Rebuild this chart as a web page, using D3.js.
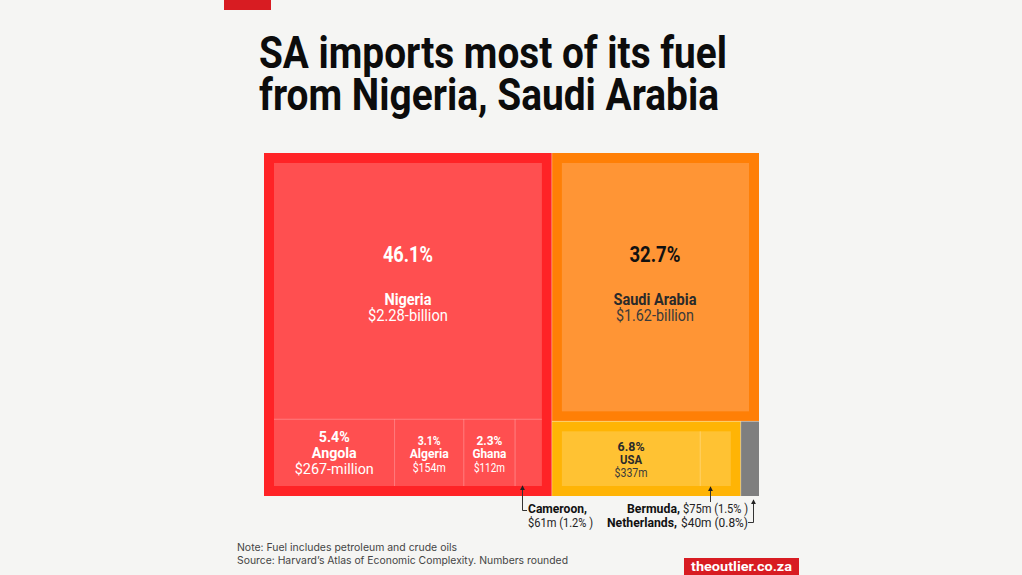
<!DOCTYPE html>
<html>
<head>
<meta charset="utf-8">
<script src="https://cdn.jsdelivr.net/npm/d3@7"></script>
<style>
  html, body { margin: 0; padding: 0; background: #f5f5f3; }
  svg { display: block; }
  text { font-family: "Roboto", sans-serif; }
</style>
</head>
<body>
<div id="chart"></div>
<script>
// values
const countries = ["Nigeria", "Angola", "Algeria", "Ghana", "Cameroon", "Saudi Arabia", "USA", "Bermuda", "Netherlands"];
const shares = [46.1, 5.4, 3.1, 2.3, 1.2, 32.7, 6.8, 1.5, 0.8];
const shareLabels = ["46.1%", "5.4%", "3.1%", "2.3%", "1.2%", "32.7%", "6.8%", "1.5%", "0.8%"];
const amountLabels = ["$2.28-billion", "$267-million", "$154m", "$112m", "$61m", "$1.62-billion", "$337m", "$75m", "$40m"];

const leaf = name => ({ name: name, value: shares[countries.indexOf(name)] });

// nesting of the treemap: each group says which way it splits
const tree = {
  name: "root", dir: "dice", children: [
    { name: "red", dir: "slice", pad: 10, children: [
      leaf("Nigeria"),
      { name: "row", dir: "dice", children: ["Angola", "Algeria", "Ghana", "Cameroon"].map(leaf) }
    ]},
    { name: "right", dir: "slice", children: [
      { name: "orange", dir: "slice", pad: 10, children: [leaf("Saudi Arabia")] },
      { name: "lower", dir: "dice", children: [
        { name: "yellow", dir: "dice", pad: 10, children: ["USA", "Bermuda"].map(leaf) },
        leaf("Netherlands")
      ]}
    ]}
  ]
};

const width = 1022, height = 575;
const svg = d3.select("#chart").append("svg").attr("width", width).attr("height", height);

// every text is squeezed to the width it has in the reference (the font there is a condensed one)
function put(parent, str, x, y, size, weight, fill, w, anchor) {
  return parent.append("text")
    .attr("x", x).attr("y", y)
    .attr("font-size", size).attr("font-weight", weight)
    .attr("fill", fill)
    .attr("text-anchor", anchor || "start")
    .attr("textLength", w)
    .attr("lengthAdjust", "spacingAndGlyphs")
    .text(str);
}

// top tab and headline
svg.append("rect").attr("x", 224).attr("y", 0).attr("width", 47).attr("height", 10).attr("fill", "#d81c22");
put(svg, "SA imports most of its fuel", 259, 68, 44, 700, "#0c0c0c", 468);
put(svg, "from Nigeria, Saudi Arabia", 259, 110, 44, 700, "#0c0c0c", 460);

// treemap
const root = d3.hierarchy(tree).sum(d => d.value || 0);
d3.treemap()
  .size([495, 343])
  .paddingOuter(d => d.data.pad || 0)
  .tile((node, x0, y0, x1, y1) => {
    (node.data.dir === "dice" ? d3.treemapDice : d3.treemapSlice)(node, x0, y0, x1, y1);
  })(root);

const g = svg.append("g").attr("transform", "translate(264,153)");

const outerColor = { red: "#ff2326", orange: "#ff7f06", yellow: "#ffb405", Netherlands: "#7f7f7f" };
const innerColor = { Nigeria: "#ff4f50", Angola: "#ff4f50", Algeria: "#ff4f50", Ghana: "#ff4f50", Cameroon: "#ff4f50",
                     "Saudi Arabia": "#ff9535", USA: "#ffc233", Bermuda: "#ffc233" };

const nodes = root.descendants();

g.selectAll("rect.outer")
  .data(nodes.filter(d => outerColor[d.data.name]))
  .enter().append("rect")
  .attr("class", "outer")
  .attr("x", d => d.x0).attr("y", d => d.y0)
  .attr("width", d => d.x1 - d.x0).attr("height", d => d.y1 - d.y0)
  .attr("fill", d => outerColor[d.data.name]);

g.selectAll("rect.inner")
  .data(nodes.filter(d => innerColor[d.data.name]))
  .enter().append("rect")
  .attr("class", "inner")
  .attr("x", d => d.x0).attr("y", d => d.y0)
  .attr("width", d => d.x1 - d.x0).attr("height", d => d.y1 - d.y0)
  .attr("fill", d => innerColor[d.data.name]);

// thin light seams between neighbours
g.selectAll("line.seam")
  .data(nodes.filter(d => d.parent && d.parent.children.indexOf(d) > 0))
  .enter().append("line")
  .attr("class", "seam")
  .attr("x1", d => d.x0).attr("y1", d => d.y0)
  .attr("x2", d => d.parent.data.dir === "dice" ? d.x0 : d.x1)
  .attr("y2", d => d.parent.data.dir === "dice" ? d.y1 : d.y0)
  .attr("stroke", "#fff").attr("stroke-opacity", 0.3).attr("stroke-width", 1);

// labels inside the cells: offsets from the cell top, with reference widths
const cellLabels = [
  { name: "Nigeria", fill: "#fff", sub: "#fff", pct: [99, 22, 50], nm: [142, 16, 47], amt: [158, 16, 80] },
  { name: "Saudi Arabia", fill: "#2a2a2a", top: "#111", sub: "#3a3a3a", dx: -0.5, pct: [99, 22, 51], nm: [142, 16, 83], amt: [158, 16, 78] },
  { name: "Angola", fill: "#fff", sub: "#fff", pct: [23, 15, 31], nm: [39, 15.5, 45], amt: [55, 15.5, 79] },
  { name: "Algeria", fill: "#fff", sub: "#fff", pct: [26, 13, 23], nm: [39, 13.5, 39], amt: [53, 13.5, 33] },
  { name: "Ghana", fill: "#fff", sub: "#fff", pct: [26, 13, 26], nm: [39, 13.5, 34], amt: [53, 13.5, 31] },
  { name: "USA", fill: "#2a2a2a", sub: "#3a3a3a", pct: [20, 13, 27], nm: [33, 13, 22], amt: [46, 13, 33] }
];

cellLabels.forEach(l => {
  const cell = root.leaves().find(d => d.data.name === l.name);
  const i = countries.indexOf(l.name);
  const cx = (cell.x0 + cell.x1) / 2 + (l.dx || 0);
  put(g, shareLabels[i], cx, cell.y0 + l.pct[0], l.pct[1], 700, l.top || l.fill, l.pct[2], "middle");
  put(g, l.name, cx, cell.y0 + l.nm[0], l.nm[1], 700, l.fill, l.nm[2], "middle");
  put(g, amountLabels[i], cx, cell.y0 + l.amt[0], l.amt[1], 400, l.sub, l.amt[2], "middle");
});

// call-outs below the treemap
svg.append("defs").append("marker")
  .attr("id", "tip").attr("viewBox", "0 0 6 6").attr("refX", 5).attr("refY", 3)
  .attr("markerWidth", 5).attr("markerHeight", 5).attr("orient", "auto-start-reverse")
  .append("path").attr("d", "M0,0L6,3L0,6Z").attr("fill", "#222");

const leaders = [
  "M527,510.5H522.5V486",
  "M710.5,502V487",
  "M748,522.5H753.5V500"
];
svg.selectAll("path.leader").data(leaders).enter().append("path")
  .attr("class", "leader").attr("d", d => d)
  .attr("fill", "none").attr("stroke", "#333").attr("stroke-width", 1)
  .attr("marker-end", "url(#tip)");

put(svg, "Cameroon,", 528, 513, 13.5, 700, "#111", 59);
put(svg, amountLabels[4] + " (" + shareLabels[4] + " )", 528, 527, 13.5, 400, "#222", 65);
put(svg, "Bermuda,", 627, 513, 13.5, 700, "#111", 53);
put(svg, amountLabels[7] + " (" + shareLabels[7] + " )", 683, 513, 13.5, 400, "#222", 65);
put(svg, "Netherlands,", 607, 527, 13.5, 700, "#111", 70);
put(svg, amountLabels[8] + " (" + shareLabels[8] + ")", 681, 527, 13.5, 400, "#222", 67);

// notes and logo
const notes = svg.append("g");
put(notes, "Note: Fuel includes petroleum and crude oils", 237, 551, 10.5, 400, "#444", 220).style("font-family", "Inter");
put(notes, "Source: Harvard\u2019s Atlas of Economic Complexity. Numbers rounded", 237, 564, 10.5, 400, "#444", 331).style("font-family", "Inter");

svg.append("rect").attr("x", 684).attr("y", 558).attr("width", 115).attr("height", 17).attr("fill", "#d81c22");
put(svg, "theoutlier.co.za", 691, 571, 13.5, 700, "#fff", 101);
</script>
</body>
</html>
